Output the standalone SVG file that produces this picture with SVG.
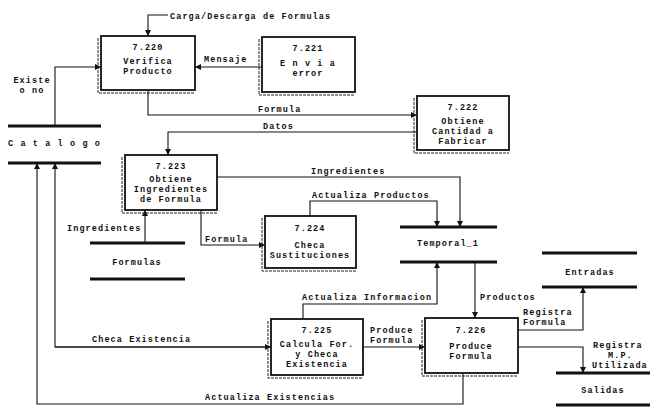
<svg xmlns="http://www.w3.org/2000/svg" width="650" height="407" viewBox="0 0 650 407">
<style>
text{font-family:"Liberation Mono","DejaVu Sans Mono",monospace;font-weight:bold;font-size:8.5px;letter-spacing:1.1px;fill:#111}
.c{text-anchor:middle}
.box{fill:#fff;stroke:#111;stroke-width:1.8}
.sh{fill:none;stroke:#222;stroke-width:1;stroke-dasharray:3 1}
.ln{fill:none;stroke:#111;stroke-width:1.1}
.st{stroke:#111;stroke-width:3}
</style>
<defs>
<marker id="ar" viewBox="0 0 10 10" refX="10" refY="5" markerWidth="6" markerHeight="6" orient="auto" markerUnits="userSpaceOnUse">
<path d="M0,0 L10,5 L0,10 z" fill="#111"/>
</marker>
</defs>
<rect width="650" height="407" fill="#fff"/>

<g id="connectors">
<polyline class="ln" points="168,15 148,15 148,36" marker-end="url(#ar)"/>
<text x="170" y="19">Carga/Descarga de Formulas</text>

<polyline class="ln" points="55,126 55,67 101,67" marker-end="url(#ar)"/>
<text class="c" x="32" y="83">Existe</text>
<text class="c" x="32" y="93">o no</text>

<polyline class="ln" points="262,67 195,67" marker-end="url(#ar)"/>
<text x="204" y="62">Mensaje</text>

<polyline class="ln" points="148,90 148,115 417,115" marker-end="url(#ar)"/>
<text x="258" y="112">Formula</text>

<polyline class="ln" points="417,132 168,132 168,155" marker-end="url(#ar)"/>
<text x="263" y="129">Datos</text>

<polyline class="ln" points="217,177 460,177 460,227" marker-end="url(#ar)"/>
<text x="311" y="174">Ingredientes</text>

<polyline class="ln" points="310,216 310,201 437,201 437,227" marker-end="url(#ar)"/>
<text x="312" y="198">Actualiza Productos</text>

<polyline class="ln" points="145,243 145,210" marker-end="url(#ar)"/>
<text x="67" y="231">Ingredientes</text>

<polyline class="ln" points="201,210 201,245 265,245" marker-end="url(#ar)"/>
<text x="205" y="242">Formula</text>

<polyline class="ln" points="271,347 55,347 55,163" marker-end="url(#ar)"/>
<polyline class="ln" points="55,347 271,347" marker-end="url(#ar)"/>
<text x="92" y="342">Checa Existencia</text>

<polyline class="ln" points="463,373 463,404 37,404 37,163" marker-end="url(#ar)"/>
<text x="205" y="400">Actualiza Existencias</text>

<polyline class="ln" points="303,319 303,304 437,304 437,262" marker-end="url(#ar)"/>
<text x="302" y="300">Actualiza Informacion</text>

<polyline class="ln" points="475,262 475,318" marker-end="url(#ar)"/>
<text x="480" y="300">Productos</text>

<polyline class="ln" points="363,347 425,347" marker-end="url(#ar)"/>
<text x="370" y="333">Produce</text>
<text x="370" y="343">Formula</text>

<polyline class="ln" points="518,330 583,330 583,287" marker-end="url(#ar)"/>
<text x="523" y="315">Registra</text>
<text x="523" y="325">Formula</text>

<polyline class="ln" points="518,347 583,347 583,373" marker-end="url(#ar)"/>
<text x="593" y="348">Registra</text>
<text x="608" y="358">M.P.</text>
<text x="592" y="368">Utilizada</text>
</g>

<g id="p7220">
<polyline class="sh" points="98,38 98,93 195,93"/>
<rect class="box" x="101" y="36" width="94" height="54"/>
<text class="c" x="148" y="50">7.220</text>
<text class="c" x="148" y="64">Verifica</text>
<text class="c" x="148" y="74">Producto</text>
</g>

<g id="p7221">
<polyline class="sh" points="259,39 259,95 355,95"/>
<rect class="box" x="262" y="37" width="93" height="55"/>
<text class="c" x="308" y="51">7.221</text>
<text class="c" x="308" y="66">E n v i a</text>
<text class="c" x="308" y="76">error</text>
</g>

<g id="p7222">
<polyline class="sh" points="414,98 414,153 509,153"/>
<rect class="box" x="417" y="96" width="92" height="54"/>
<text class="c" x="463" y="110">7.222</text>
<text class="c" x="463" y="124">Obtiene</text>
<text class="c" x="463" y="134">Cantidad a</text>
<text class="c" x="463" y="144">Fabricar</text>
</g>

<g id="p7223">
<polyline class="sh" points="122,157 122,213 217,213"/>
<rect class="box" x="125" y="155" width="92" height="55"/>
<text class="c" x="171" y="169">7.223</text>
<text class="c" x="171" y="182">Obtiene</text>
<text class="c" x="171" y="192">Ingredientes</text>
<text class="c" x="171" y="202">de Formula</text>
</g>

<g id="p7224">
<polyline class="sh" points="262,218 262,271 356,271"/>
<rect class="box" x="265" y="216" width="91" height="52"/>
<text class="c" x="310" y="231">7.224</text>
<text class="c" x="310" y="248">Checa</text>
<text class="c" x="310" y="258">Sustituciones</text>
</g>

<g id="p7225">
<polyline class="sh" points="268,321 268,378 363,378"/>
<rect class="box" x="271" y="319" width="92" height="56"/>
<text class="c" x="317" y="333">7.225</text>
<text class="c" x="317" y="347">Calcula For.</text>
<text class="c" x="317" y="357">y Checa</text>
<text class="c" x="317" y="367">Existencia</text>
</g>

<g id="p7226">
<polyline class="sh" points="422,320 422,376 518,376"/>
<rect class="box" x="425" y="318" width="93" height="55"/>
<text class="c" x="471" y="333">7.226</text>
<text class="c" x="471" y="349">Produce</text>
<text class="c" x="471" y="359">Formula</text>
</g>

<g id="catalogo">
<line class="st" x1="8" y1="126" x2="101" y2="126"/>
<text x="8" y="146">C a t a l o g o</text>
<line class="st" x1="8" y1="163" x2="101" y2="163"/>
</g>

<g id="formulas">
<line class="st" x1="90" y1="243" x2="185" y2="243"/>
<text class="c" x="137" y="265">Formulas</text>
<line class="st" x1="90" y1="279" x2="185" y2="279"/>
</g>

<g id="temporal">
<line class="st" x1="400" y1="227" x2="497" y2="227"/>
<text class="c" x="448" y="246">Temporal_1</text>
<line class="st" x1="400" y1="262" x2="497" y2="262"/>
</g>

<g id="entradas">
<line class="st" x1="542" y1="253" x2="637" y2="253"/>
<text class="c" x="590" y="275">Entradas</text>
<line class="st" x1="542" y1="287" x2="637" y2="287"/>
</g>

<g id="salidas">
<line class="st" x1="556" y1="373" x2="650" y2="373"/>
<text class="c" x="603" y="393">Salidas</text>
<line class="st" x1="556" y1="405" x2="650" y2="405"/>
</g>
</svg>
